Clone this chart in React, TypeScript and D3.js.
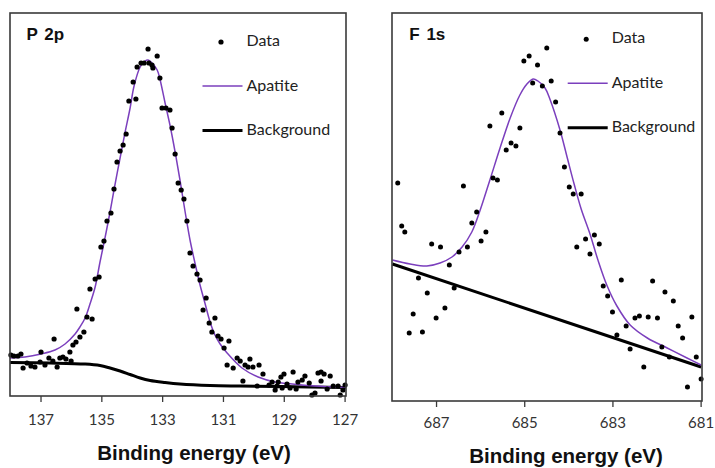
import React from 'react';
import * as d3 from 'd3';

const W = 715;
const H = 468;

// ---- P 2p region: measured points (binding energy in eV, intensity in a.u.)
const P2P_ENERGY = [
  137.99, 137.89, 137.76, 137.66, 137.59, 137.46, 137.33, 137.2, 137.03, 137.0,
  136.87, 136.74, 136.61, 136.57, 136.47, 136.38, 136.28, 136.18, 136.05, 136.01,
  135.95, 135.85, 135.82, 135.72, 135.59, 135.49, 135.39, 135.32, 135.22, 135.09,
  135.03, 134.93, 134.83, 134.7, 134.6, 134.5, 134.4, 134.3, 134.2, 134.11,
  133.97, 133.88, 133.84, 133.71, 133.61, 133.48, 133.45, 133.35, 133.32, 133.18,
  133.09, 133.02, 132.89, 132.76, 132.69, 132.59, 132.49, 132.39, 132.3, 132.2,
  132.1, 132.0, 131.87, 131.77, 131.67, 131.57, 131.47, 131.38, 131.28, 131.18,
  131.08, 130.98, 130.88, 130.82, 130.68, 130.55, 130.45, 130.36, 130.29, 130.19,
  130.13, 130.03, 129.89, 129.83, 129.7, 129.5, 129.4, 129.3, 129.24, 129.2,
  129.11, 129.07, 129.01, 128.91, 128.81, 128.71, 128.61, 128.55, 128.41, 128.32,
  128.18, 128.09, 127.99, 127.89, 127.79, 127.79, 127.69, 127.59, 127.49, 127.39,
  127.23, 127.16, 127.07, 127.0,
];
const P2P_COUNTS = [
  41, 40, 40, 42, 28, 33, 30, 29, 34, 44,
  31, 38, 35, 57, 29, 38, 39, 37, 44, 35,
  51, 54, 87, 59, 64, 79, 107, 77, 117, 119,
  149, 155, 175, 183, 207, 234, 245, 251, 262, 295,
  314, 297, 329, 333, 333, 347, 333, 331, 328, 340,
  318, 288, 288, 286, 268, 242, 213, 206, 197, 175,
  143, 130, 122, 116, 86, 98, 73, 64, 78, 60,
  57, 48, 31, 55, 28, 38, 35, 15, 31, 29,
  37, 29, 10, 31, 22, 11, 14, 6, 10, 14,
  19, 8, 22, 12, 8, 24, 7, 14, 16, 20,
  13, 1, 3, 23, 24, 15, 22, 7, 20, 10,
  10, 1, 6, 11,
];
const P2P_FIT_ENERGY = [
  138.02, 137.53, 137.0, 136.54, 136.21, 135.88, 135.72, 135.55, 135.39, 135.22,
  135.06, 134.89, 134.73, 134.6, 134.4, 134.24, 134.07, 133.94, 133.74, 133.58,
  133.48, 133.35, 133.18, 133.09, 132.92, 132.76, 132.59, 132.43, 132.26, 132.1,
  131.93, 131.77, 131.61, 131.44, 131.28, 131.11, 130.88, 130.39, 129.86, 129.3,
  128.74, 127.99, 126.97,
];
const P2P_FIT_COUNTS = [
  38, 39, 42, 46, 52, 62, 69, 78, 92, 109,
  134, 159, 184, 206, 238, 263, 288, 310, 329, 335,
  336, 333, 326, 317, 293, 271, 244, 216, 184, 156,
  132, 111, 93, 74, 61, 52, 43, 28, 19, 14,
  12, 10, 8.5,
];
const P2P_BG_ENERGY = [
  138.02, 136.7, 135.55, 135.06, 134.73, 134.4, 134.07, 133.74, 133.41, 132.92,
  132.43, 131.44, 130.45, 129.14, 126.97,
];
const P2P_BG_COUNTS = [
  33.5, 33, 32, 30.5, 28, 25, 21.5, 18, 15.5, 13.5,
  12, 10.5, 10, 9.5, 8.5,
];
const P2P_TICKS = [137, 135, 133, 131, 129, 127];

// ---- F 1s region
const F1S_ENERGY = [
  687.88, 687.79, 687.72, 687.62, 687.53, 687.41, 687.32, 687.21, 687.11, 687.01,
  686.91, 686.81, 686.71, 686.6, 686.49, 686.39, 686.3, 686.2, 686.09, 685.99,
  685.88, 685.79, 685.72, 685.62, 685.52, 685.42, 685.31, 685.2, 685.11, 685.02,
  684.9, 684.82, 684.71, 684.6, 684.5, 684.4, 684.3, 684.2, 684.1, 683.99,
  683.9, 683.82, 683.72, 683.62, 683.52, 683.42, 683.31, 683.22, 683.12, 683.01,
  682.91, 682.81, 682.7, 682.61, 682.5, 682.4, 682.3, 682.2, 682.1, 681.99,
  681.89, 681.82, 681.72, 681.63, 681.52, 681.42, 681.31, 681.21, 681.11, 681.0,
];
const F1S_COUNTS = [
  218, 175, 169, 68, 87, 123, 69, 108, 157, 83,
  154, 93, 136, 113, 149, 215, 154, 178, 189, 160,
  169, 275, 223, 221, 288, 251, 258, 255, 273, 340,
  345, 318, 336, 315, 353, 320, 299, 268, 234, 214,
  207, 154, 207, 162, 147, 166, 157, 115, 105, 89,
  66, 121, 75, 52, 83, 85, 34, 84, 120, 83,
  54, 109, 44, 100, 75, 63, 14, 84, 44, 22,
];
const F1S_FIT_ENERGY = [
  688.0, 687.6, 687.22, 686.92, 686.65, 686.42, 686.2, 686.01, 685.79, 685.56,
  685.33, 685.11, 684.95, 684.81, 684.7, 684.54, 684.43, 684.2, 684.04, 683.88,
  683.72, 683.52, 683.34, 683.13, 682.91, 682.61, 682.22, 681.77, 681.32, 681.0,
];
const F1S_FIT_COUNTS = [
  141, 137, 135, 138, 144, 154, 169, 191, 221, 253,
  283, 306, 317, 322, 320, 313, 302, 271, 244, 217,
  192, 167, 141, 115, 95, 76, 63, 53, 43, 36,
];
const F1S_BG_ENERGY = [688.0, 681.0];
const F1S_BG_COUNTS = [137, 34];
const F1S_TICKS = [687, 685, 683, 681];

const LEGEND_LABELS = ['Data', 'Apatite', 'Background'];
const AXIS_TITLE = 'Binding energy (eV)';

const FIT_COLOR = '#7b3fbd';
const FRAME_COLOR = '#3a3a3a';
const LABEL_FONT = 'Lato, "Open Sans", sans-serif';
const BOLD_FONT = '"Liberation Sans", Arial, sans-serif';

type Box = { x0: number; x1: number; y0: number; y1: number };

type PanelProps = {
  id: string;
  box: Box;
  xDomain: [number, number];
  yMax: number;
  energy: number[];
  counts: number[];
  fitE: number[];
  fitC: number[];
  bgE: number[];
  bgC: number[];
  ticks: number[];
  title: string;
  titlePos: [number, number];
  legendX: number;
  legendY: number;
  axisTitlePos: [number, number];
  tickLabelY: number;
  dotR: number;
};

function Panel(p: PanelProps) {
  const { box } = p;
  const x = d3.scaleLinear().domain(p.xDomain).range([box.x0, box.x1]);
  const y = d3.scaleLinear().domain([0, p.yMax]).range([box.y1, box.y0]);

  const line = d3
    .line<[number, number]>()
    .x((d) => x(d[0]))
    .y((d) => y(d[1]))
    .curve(d3.curveCatmullRom.alpha(0.5));

  const fit = line(p.fitE.map((e, i) => [e, p.fitC[i]] as [number, number])) || '';
  const bg = line(p.bgE.map((e, i) => [e, p.bgC[i]] as [number, number])) || '';

  const lx = p.legendX;
  const ly = p.legendY;

  return (
    <g>
      <defs>
        <clipPath id={`clip-${p.id}`}>
          <rect x={box.x0} y={box.y0} width={box.x1 - box.x0} height={box.y1 - box.y0} />
        </clipPath>
      </defs>

      <g clipPath={`url(#clip-${p.id})`}>
        <path d={bg} fill="none" stroke="#000" strokeWidth={3} />
        <path d={fit} fill="none" stroke={FIT_COLOR} strokeWidth={1.5} />
      </g>

      {p.energy.map((e, i) => (
        <circle key={i} cx={x(e)} cy={y(p.counts[i])} r={p.dotR} fill="#000" />
      ))}

      <rect
        x={box.x0}
        y={box.y0}
        width={box.x1 - box.x0}
        height={box.y1 - box.y0}
        fill="none"
        stroke={FRAME_COLOR}
        strokeWidth={1.6}
      />

      {p.ticks.map((t) => (
        <g key={t}>
          <line x1={x(t)} x2={x(t)} y1={box.y1} y2={box.y1 + 6} stroke={FRAME_COLOR} strokeWidth={1.3} />
          <text
            x={x(t)}
            y={p.tickLabelY}
            textAnchor="middle"
            fontFamily={LABEL_FONT}
            fontSize={15}
            fill="#333"
          >
            {t}
          </text>
        </g>
      ))}

      <text
        x={p.titlePos[0]}
        y={p.titlePos[1]}
        fontFamily={BOLD_FONT}
        fontWeight="bold"
        fontSize={17}
        wordSpacing={2}
        fill="#111"
      >
        {p.title}
      </text>

      {/* legend */}
      <circle cx={lx - 25.5} cy={ly - 3.5} r={p.dotR} fill="#000" />
      <text x={lx} y={ly} fontFamily={LABEL_FONT} fontSize={16} fill="#222">
        {LEGEND_LABELS[0]}
      </text>
      <line x1={lx - 44} x2={lx - 4} y1={ly + 40.5} y2={ly + 40.5} stroke={FIT_COLOR} strokeWidth={1.5} />
      <text x={lx} y={ly + 45} fontFamily={LABEL_FONT} fontSize={16} fill="#222">
        {LEGEND_LABELS[1]}
      </text>
      <line x1={lx - 44} x2={lx - 4} y1={ly + 85} y2={ly + 85} stroke="#000" strokeWidth={3} />
      <text x={lx} y={ly + 89.5} fontFamily={LABEL_FONT} fontSize={16} fill="#222">
        {LEGEND_LABELS[2]}
      </text>

      <text
        x={p.axisTitlePos[0]}
        y={p.axisTitlePos[1]}
        textAnchor="middle"
        fontFamily={BOLD_FONT}
        fontWeight="bold"
        fontSize={20.5}
        fill="#111"
      >
        {AXIS_TITLE}
      </text>
    </g>
  );
}

export default function App() {
  return (
    <svg
      width={W}
      height={H}
      viewBox={`0 0 ${W} ${H}`}
      style={{ position: 'absolute', left: 0, top: 0, background: '#fff' }}
    >
      <rect x={0} y={0} width={W} height={H} fill="#fff" />
      <Panel
        id="p2p"
        box={{ x0: 10, x1: 346, y0: 13, y1: 396 }}
        xDomain={[138.02, 126.97]}
        yMax={383}
        energy={P2P_ENERGY}
        counts={P2P_COUNTS}
        fitE={P2P_FIT_ENERGY}
        fitC={P2P_FIT_COUNTS}
        bgE={P2P_BG_ENERGY}
        bgC={P2P_BG_COUNTS}
        ticks={P2P_TICKS}
        title="P 2p"
        titlePos={[26.5, 39.5]}
        legendX={246.5}
        legendY={45.5}
        axisTitlePos={[194, 460]}
        tickLabelY={425}
        dotR={2.6}
      />
      <Panel
        id="f1s"
        box={{ x0: 392, x1: 702, y0: 13, y1: 401 }}
        xDomain={[688.01, 680.98]}
        yMax={388}
        energy={F1S_ENERGY}
        counts={F1S_COUNTS}
        fitE={F1S_FIT_ENERGY}
        fitC={F1S_FIT_COUNTS}
        bgE={F1S_BG_ENERGY}
        bgC={F1S_BG_COUNTS}
        ticks={F1S_TICKS}
        title="F 1s"
        titlePos={[409.3, 40]}
        legendX={611.7}
        legendY={42.7}
        axisTitlePos={[566, 463]}
        tickLabelY={428}
        dotR={2.5}
      />
    </svg>
  );
}
